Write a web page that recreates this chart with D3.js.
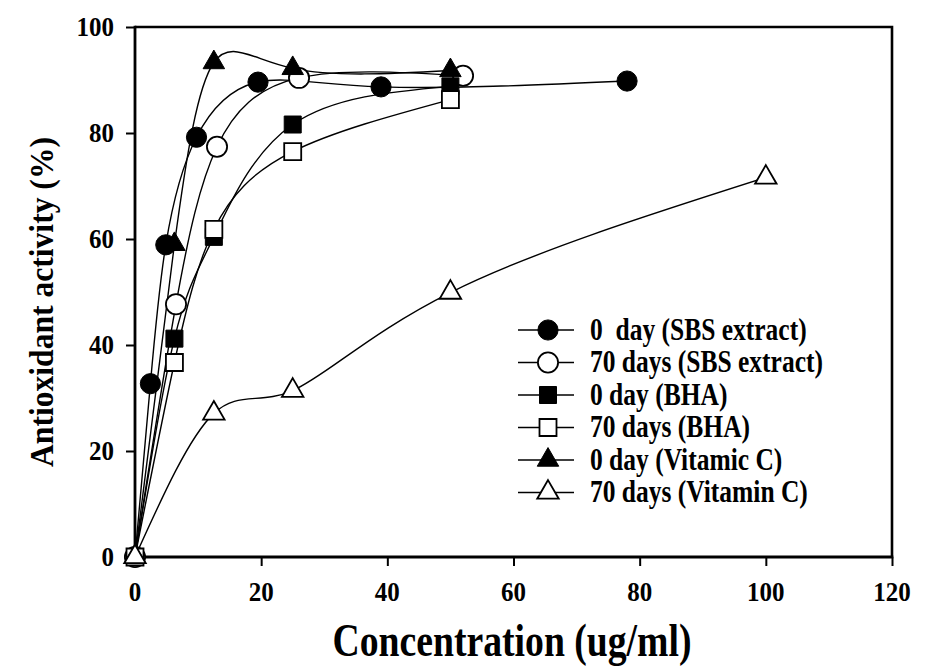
<!DOCTYPE html>
<html>
<head>
<meta charset="utf-8">
<script src="https://cdn.jsdelivr.net/npm/d3@7"></script>
<style>
  html, body { margin: 0; padding: 0; background: #fff; }
  svg { display: block; }
  text { font-family: "Liberation Serif", "Times New Roman", serif; font-weight: bold; fill: #000; }
</style>
</head>
<body>
<svg id="chart" width="937" height="667"></svg>
<script>
// ---- data ----
const sbs0X  = [0, 2.44, 4.88, 9.75, 19.5, 39, 78];
const sbs0Y  = [0, 32.7, 58.9, 79.2, 89.6, 88.7, 89.8];
const sbs70X = [0, 6.5, 13, 26, 52];
const sbs70Y = [0, 47.7, 77.4, 90.4, 90.8];
const bha0X  = [0, 6.25, 12.5, 25, 50];
const bha0Y  = [0, 41.2, 60.4, 81.6, 88.8];
const bha70X = [0, 6.25, 12.5, 25, 50];
const bha70Y = [0, 36.7, 61.8, 76.5, 86.3];
const vc0X   = [0, 6.25, 12.5, 25, 50];
const vc0Y   = [0, 59.0, 93.3, 92.2, 91.8];
const vc70X  = [0, 12.5, 25, 50, 100];
const vc70Y  = [0, 27.1, 31.4, 49.9, 71.6];
const seriesNames = ["0  day (SBS extract)", "70 days (SBS extract)", "0 day (BHA)", "70 days (BHA)", "0 day (Vitamic C)", "70 days (Vitamin C)"];
const xTicks = [0, 20, 40, 60, 80, 100, 120];
const yTicks = [0, 20, 40, 60, 80, 100];
const xTitle = "Concentration (ug/ml)";
const yTitle = "Antioxidant activity (%)";

const series = [
  {name: seriesNames[0], xs: sbs0X,  ys: sbs0Y,  shape: "circle",   filled: true},
  {name: seriesNames[1], xs: sbs70X, ys: sbs70Y, shape: "circle",   filled: false},
  {name: seriesNames[2], xs: bha0X,  ys: bha0Y,  shape: "square",   filled: true},
  {name: seriesNames[3], xs: bha70X, ys: bha70Y, shape: "square",   filled: false},
  {name: seriesNames[4], xs: vc0X,   ys: vc0Y,   shape: "triangle", filled: true},
  {name: seriesNames[5], xs: vc70X,  ys: vc70Y,  shape: "triangle", filled: false}
];

const svg = d3.select("#chart");
const L = 135, R = 892, T = 27, B = 557;
const x = d3.scaleLinear().domain([0, 120]).range([L, R]);
const y = d3.scaleLinear().domain([0, 100]).range([B, T]);

const symType = {circle: d3.symbolCircle, square: d3.symbolSquare, triangle: d3.symbolTriangle};
const symSize = {circle: 320, square: 289, triangle: 200};
function sym(shape) { return d3.symbol().type(symType[shape]).size(symSize[shape])(); }

// frame (top & right)
svg.append("path")
  .attr("d", `M${L},${T}H${R}V${B}`)
  .attr("fill", "none").attr("stroke", "#000").attr("stroke-width", 2.6);

// axes (lines and ticks from d3 axes; labels drawn separately)
const xAxis = svg.append("g").attr("transform", `translate(0,${B})`)
  .call(d3.axisBottom(x).tickValues(xTicks).tickSize(9).tickFormat("").tickSizeOuter(0));
const yAxis = svg.append("g").attr("transform", `translate(${L},0)`)
  .call(d3.axisLeft(y).tickValues(yTicks).tickSize(9).tickFormat("").tickSizeOuter(0));
[xAxis, yAxis].forEach(g => {
  g.select(".domain").attr("stroke", "#000").attr("stroke-width", 2.8);
  g.selectAll(".tick line").attr("stroke", "#000").attr("stroke-width", 2);
});
xAxis.select(".domain").attr("d", `M${L - 1.4},0H${R + 1.3}`);
yAxis.select(".domain").attr("d", `M0,${B + 1.4}V${T - 1.3}`);

// tick labels (slightly tall glyphs like the original)
const tickK = 1.12;
svg.append("g").selectAll("text").data(xTicks).join("text")
  .attr("transform", d => `translate(${x(d)},${601}) scale(1,${tickK})`)
  .attr("text-anchor", "middle").style("font-size", "25px").text(d => d);
svg.append("g").selectAll("text").data(yTicks).join("text")
  .attr("transform", d => `translate(${L - 21},${y(d) + 9}) scale(1,${tickK})`)
  .attr("text-anchor", "end").style("font-size", "25px").text(d => d);

// lines & markers
const line = d3.line().x(d => x(d[0])).y(d => y(d[1])).curve(d3.curveNatural);
series.forEach(s => {
  const pts = s.xs.map((v, i) => [v, s.ys[i]]);
  svg.append("path").attr("d", line(pts))
    .attr("fill", "none").attr("stroke", "#000").attr("stroke-width", 1.4);
});
series.forEach(s => {
  const pts = s.xs.map((v, i) => [v, s.ys[i]]);
  svg.append("g").selectAll("path").data(pts).join("path")
    .attr("d", sym(s.shape))
    .attr("transform", d => `translate(${x(d[0])},${y(d[1])})`)
    .attr("fill", s.filled ? "#000" : "#fff")
    .attr("stroke", "#000").attr("stroke-width", s.filled ? 1 : 1.8);
});

// legend
const lg = svg.append("g");
series.forEach((s, i) => {
  const cy = 330 + i * 32.5;
  lg.append("line").attr("x1", 518).attr("x2", 574).attr("y1", cy).attr("y2", cy)
    .attr("stroke", "#000").attr("stroke-width", 1.6);
  lg.append("path").attr("d", sym(s.shape))
    .attr("transform", `translate(548,${cy})`)
    .attr("fill", s.filled ? "#000" : "#fff")
    .attr("stroke", "#000").attr("stroke-width", s.filled ? 1 : 1.8);
  lg.append("text").attr("transform", `translate(590,${cy + 9.5}) scale(1,1.2)`)
    .style("font-size", "25.5px").style("white-space", "pre")
    .text(s.name);
});

// axis titles
svg.append("text").attr("transform", "translate(512,656) scale(1,1.22)").attr("text-anchor", "middle")
  .style("font-size", "38px").attr("textLength", 359).attr("lengthAdjust", "spacingAndGlyphs")
  .text(xTitle);
svg.append("text").attr("transform", "translate(53,302) rotate(-90) scale(1,1.1)").attr("text-anchor", "middle")
  .style("font-size", "31px").attr("textLength", 330).attr("lengthAdjust", "spacingAndGlyphs")
  .text(yTitle);
</script>
</body>
</html>
